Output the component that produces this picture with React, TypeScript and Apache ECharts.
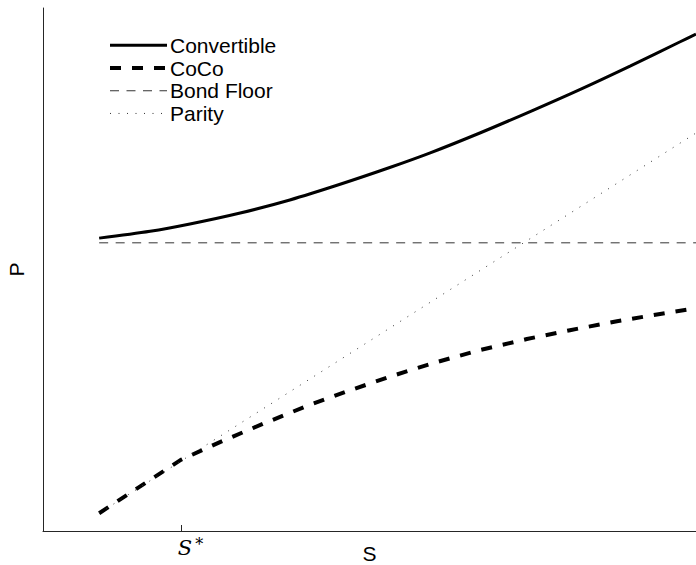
import React, { useEffect, useRef } from "react";
import * as echarts from "echarts";

// S axis: 0..100 across the plot, P axis: 0..100
const S_STAR = 21.1;
const S_START = 8.6;
const S_END = 100;
const BOND_FLOOR = 55.1;

const convS = [8.6, 16.4, 22.5, 30.2, 37.8, 45.5, 53.1, 59.3, 66.9, 74.6, 82.2, 89.9, 97.5, 100];
const convP = [56.0, 57.3, 58.7, 60.8, 63.3, 66.3, 69.5, 72.3, 76.1, 80.2, 84.4, 88.9, 93.5, 95.0];

const cocoS = [8.6, 21.1, 27.1, 33.7, 40.4, 47.0, 53.6, 60.3, 66.9, 74.1, 80.7, 87.9, 94.5, 100];
const cocoP = [3.4, 13.6, 17.0, 20.5, 23.9, 26.9, 29.7, 32.3, 34.6, 36.7, 38.4, 40.1, 41.5, 42.6];

const parityS = [8.6, 100];
const parityP = [3.4, 76.1];

const zip = (a: number[], b: number[]) => a.map((v, i) => [v, b[i]]);

export default function App() {
  const ref = useRef<HTMLDivElement>(null);
  useEffect(() => {
    if (!ref.current) return;
    const chart = echarts.init(ref.current, undefined, { renderer: "svg" });
    const font = "Liberation Sans";
    chart.setOption({
      animation: false,
      backgroundColor: "#ffffff",
      grid: { left: 43, right: 0, top: 8, bottom: 34, containLabel: false, outerBoundsMode: "none" },
      legend: {
        orient: "vertical",
        left: 108,
        top: 34,
        padding: 0,
        itemWidth: 57,
        itemHeight: 14,
        itemGap: 0,
        itemStyle: { color: "transparent", borderWidth: 0, opacity: 0 },
        textStyle: { fontFamily: font, fontSize: 21, color: "#000", lineHeight: 22.7, padding: [0, 0, 0, -2] },
        data: [
          { name: "Convertible", lineStyle: { width: 3 } },
          { name: "CoCo", lineStyle: { width: 4 } },
          { name: "Bond Floor", lineStyle: { width: 1 } },
          { name: "Parity", lineStyle: { width: 1 } },
        ],
      },
      xAxis: {
        type: "value",
        min: 0,
        max: 100,
        name: "S",
        nameLocation: "middle",
        nameGap: 12,
        nameMoveOverlap: false,
        nameTextStyle: { fontFamily: font, fontSize: 21, color: "#000" },
        axisLine: { show: true, lineStyle: { color: "#262626", width: 1 } },
        axisTick: { show: true, inside: true, length: 6, customValues: [S_STAR], lineStyle: { color: "#262626" } },
        axisLabel: {
          show: true,
          customValues: [S_STAR],
          margin: 5,
          align: "left",
          padding: [0, 0, 0, -3],
          formatter: () => "{s|S}{sup|*}",
          rich: {
            s: { fontFamily: "DejaVu Serif", fontStyle: "italic", fontSize: 21, color: "#000" },
            sup: { fontFamily: "DejaVu Serif", fontSize: 16, color: "#000", padding: [0, 0, 8, 3] },
          },
        },
        splitLine: { show: false },
      },
      yAxis: {
        type: "value",
        min: 0,
        max: 100,
        name: "P",
        nameLocation: "middle",
        nameGap: 16,
        nameMoveOverlap: false,
        nameTextStyle: { fontFamily: font, fontSize: 21, color: "#000" },
        axisLine: { show: true, lineStyle: { color: "#262626", width: 1 } },
        axisTick: { show: false },
        axisLabel: { show: false },
        splitLine: { show: false },
      },
      series: [
        {
          name: "Convertible",
          type: "line",
          data: zip(convS, convP),
          smooth: 0.3,
          symbol: "none",
          lineStyle: { color: "#000", width: 3 },
          itemStyle: { color: "#000" },
        },
        {
          name: "CoCo",
          type: "line",
          data: zip(cocoS, cocoP),
          symbol: "none",
          lineStyle: { color: "#000", width: 4, type: [11, 11] },
          itemStyle: { color: "#000" },
        },
        {
          name: "Bond Floor",
          type: "line",
          data: [[S_START, BOND_FLOOR], [S_END, BOND_FLOOR]],
          symbol: "none",
          lineStyle: { color: "#333", width: 1, type: [9, 7.5] },
          itemStyle: { color: "#333" },
        },
        {
          name: "Parity",
          type: "line",
          data: zip(parityS, parityP),
          symbol: "none",
          lineStyle: { color: "#333", width: 1, type: [1, 7.5] },
          itemStyle: { color: "#333" },
        },
      ],
    });
    return () => chart.dispose();
  }, []);
  return <div ref={ref} style={{ width: 696, height: 565, position: "absolute", left: 0, top: 0 }} />;
}
